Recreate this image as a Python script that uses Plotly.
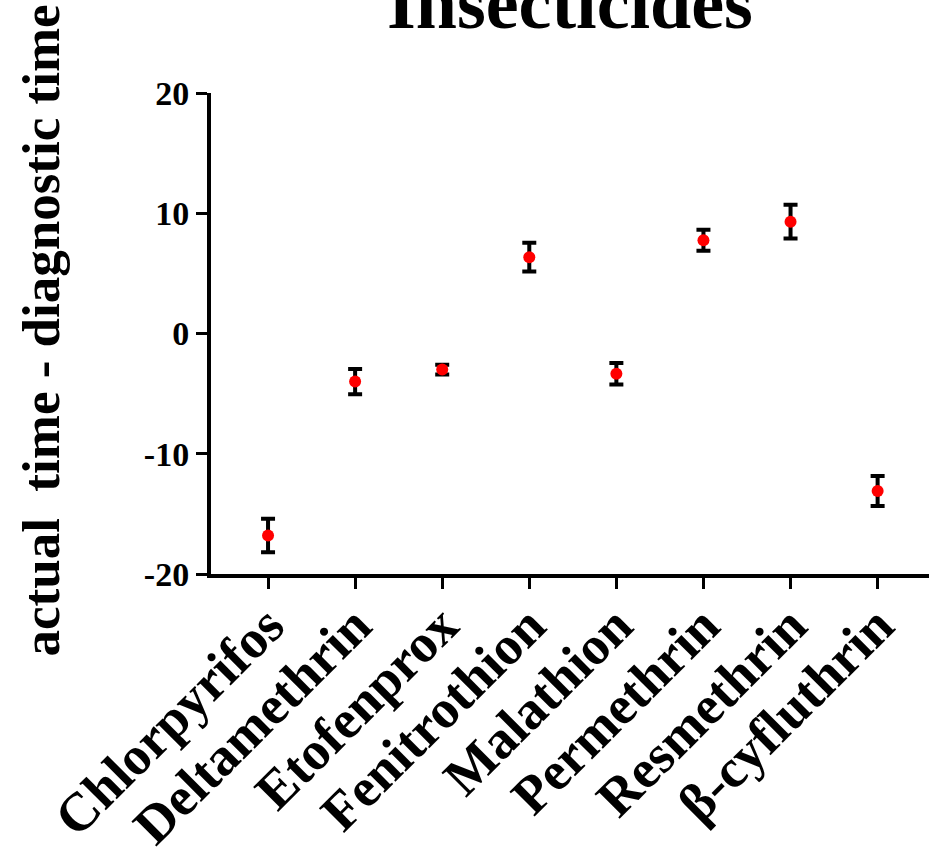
import plotly.graph_objects as go

categories = ["Chlorpyrifos", "Deltamethrin", "Etofenprox", "Fenitrothion",
              "Malathion", "Permethrin", "Resmethrin", "β-cyfluthrin"]
means = [-16.8, -4.0, -3.0, 6.35, -3.35, 7.75, 9.3, -13.1]
errors = [1.4, 1.05, 0.4, 1.2, 0.9, 0.87, 1.4, 1.25]
y_ticks = [-20, -10, 0, 10, 20]

FONT = "Liberation Serif"

fig = go.Figure()
fig.add_trace(go.Scatter(
    x=list(range(len(categories))), y=means, mode="markers",
    marker=dict(color="#ff0000", size=12, line=dict(width=0)),
    error_y=dict(type="data", array=errors, visible=True, color="black",
                 thickness=4, width=7),
    showlegend=False,
))

fig.update_layout(
    width=929, height=855,
    margin=dict(l=211, r=0, t=93, b=281, autoexpand=False),
    plot_bgcolor="white", paper_bgcolor="white",
    font=dict(family=FONT, color="black"),
)
fig.update_xaxes(
    range=[-0.655, 7.59], tickmode="array", tickvals=list(range(len(categories))),
    ticktext=categories, tickangle=-45, automargin=False, ticklabelstandoff=-17,
    tickfont=dict(family=FONT, size=54, color="black", weight="bold"),
    showline=True, linecolor="black", linewidth=4, ticks="outside",
    ticklen=11, tickwidth=3, tickcolor="black", showgrid=False, zeroline=False,
)
fig.update_yaxes(
    range=[-20, 20], tickmode="array", tickvals=y_ticks, automargin=False,
    ticktext=[str(v) for v in y_ticks],
    tickfont=dict(family=FONT, size=34, color="black", weight="bold"),
    showline=True, linecolor="black", linewidth=4, ticks="outside",
    ticklen=11, tickwidth=3, tickcolor="black", showgrid=False, zeroline=False,
)
fig.add_annotation(
    text="<b>actual  time - diagnostic time</b>", xref="paper", yref="paper",
    x=0, y=0.5, xshift=-171, yshift=3, xanchor="center", yanchor="middle",
    textangle=-90, showarrow=False,
    font=dict(family=FONT, size=53, color="black"),
)
fig.add_annotation(
    text="<b>Insecticides</b>", xref="paper", yref="paper",
    x=0.5, y=1.0, yshift=90, xanchor="center", yanchor="middle",
    showarrow=False, font=dict(family=FONT, size=74, color="black"),
)
fig.write_html("out.html")
